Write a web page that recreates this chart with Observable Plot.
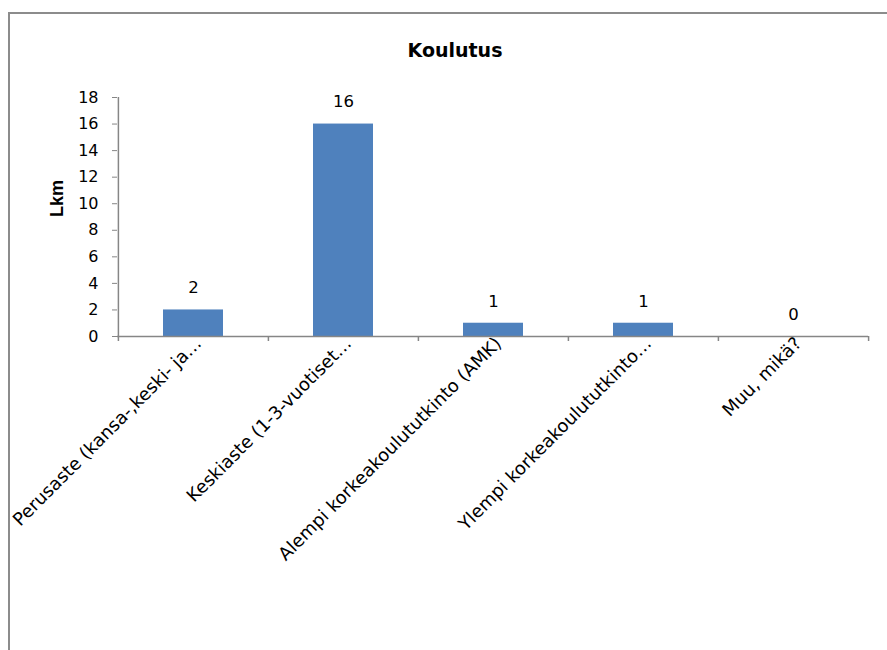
<!DOCTYPE html>
<html>
<head>
<meta charset="utf-8">
<script src="https://cdn.jsdelivr.net/npm/d3@7"></script>
<script src="https://cdn.jsdelivr.net/npm/@observablehq/plot@0.6"></script>
<style>
  html, body { margin: 0; padding: 0; background: #fff; overflow: hidden; }
  #chart { position: relative; width: 887px; height: 650px; overflow: hidden; }
  #chart svg { position: absolute; left: 0; top: 0; }
  #border { position: absolute; left: 8px; top: 12px; width: 1000px; height: 1000px;
            border: 2px solid #8c8c8c; box-sizing: border-box; pointer-events: none; }
  #title { position: absolute; left: 0; top: 38px; width: 910px; text-align: center;
           font: bold 19px "DejaVu Sans", sans-serif; line-height: 24px; color: #000; }
</style>
</head>
<body>
<div id="chart">
  <div id="title">Koulutus</div>
</div>
<script>
// Education level counts
const categories = [
  "Perusaste (kansa-,keski- ja…",
  "Keskiaste (1-3-vuotiset…",
  "Alempi korkeakoulututkinto (AMK)",
  "Ylempi korkeakoulututkinto…",
  "Muu, mikä?"
];
const counts = [2, 16, 1, 1, 0];
const yTicks = [0, 2, 4, 6, 8, 10, 12, 14, 16, 18];
const yTitle = "Lkm";

const rows = categories.map((category, i) => ({category, count: counts[i]}));

const width = 887, height = 650;
const marginLeft = 117, marginRight = 19, marginTop = 97, marginBottom = 314;
const step = (width - marginLeft - marginRight) / categories.length;
const axisGrey = "#868686";

const chart = Plot.plot({
  width, height, marginLeft, marginRight, marginTop, marginBottom,
  style: {fontFamily: "DejaVu Sans, sans-serif", fontSize: "16px", color: "#000", background: "transparent", overflow: "visible"},
  x: {domain: categories, paddingInner: 0.6, paddingOuter: 0.3, axis: null},
  y: {domain: [0, 18], axis: null},
  marks: [
    Plot.barY(rows, {x: "category", y: "count", fill: "#4F81BD"}),
    // category axis line and boundary ticks
    Plot.ruleY([0], {stroke: axisGrey, strokeWidth: 1.5}),
    Plot.ruleX(categories, {dx: -step / 2, y1: 0, y2: 0, insetBottom: -5, stroke: axisGrey, strokeWidth: 1.5}),
    Plot.ruleX([categories[categories.length - 1]], {dx: step / 2, y1: 0, y2: 0, insetBottom: -5, stroke: axisGrey, strokeWidth: 1.5}),
    // value axis line
    Plot.ruleX([categories[0]], {dx: -step / 2, y1: 0, y2: 18, stroke: axisGrey, strokeWidth: 1.5}),
    Plot.axisY({ticks: yTicks, tickSize: 5, tickPadding: 14, stroke: axisGrey, fill: "#000", fontSize: 16, label: null}),
    Plot.axisX({tickSize: 0, tickRotate: -45, tickPadding: 4, dx: 5, fill: "#000", fontSize: 18, label: null}),
    Plot.text([yTitle], {frameAnchor: "left", rotate: -90, dx: -60, fontWeight: "bold", fontSize: 18, fontFamily: "Liberation Sans, sans-serif"}),
    Plot.text(rows, {x: "category", y: "count", text: d => String(d.count), dy: -22, fontSize: 16.5})
  ]
});

const container = document.getElementById("chart");
container.appendChild(chart);
const border = document.createElement("div");
border.id = "border";
container.appendChild(border);
</script>
</body>
</html>
